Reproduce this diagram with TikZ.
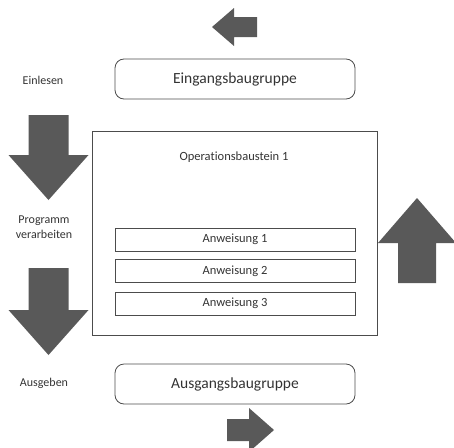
\documentclass[tikz,border=0pt]{standalone}
\usepackage{fontspec}
\setmainfont{Carlito}[Ligatures=NoCommon]
\begin{document}
\begin{tikzpicture}[x=1pt,y=-1pt,
  every node/.style={text=black!80},
  module/.style={draw=black!70, line width=0.8pt, rounded corners=9pt,
    minimum width=240pt, minimum height=40pt, inner sep=0pt,
    font=\fontsize{15.5}{18}\selectfont},
  instr/.style={draw=black!70, line width=0.8pt,
    minimum width=240pt, minimum height=23pt, inner sep=0pt,
    font=\fontsize{12.5}{14}\selectfont},
  block/.style={draw=black!70, line width=0.8pt, inner sep=0pt},
  step label/.style={font=\fontsize{12}{15}\selectfont, align=center, inner sep=0pt},
  arrowfill/.style={fill=black!65},
  pics/blockarrow/.style n args={4}{code={
    \fill[arrowfill] (0,-#2) -- (#1,-#2) -- (#1,-#4) -- ({#1+#3},0)
      -- (#1,#4) -- (#1,#2) -- (0,#2) -- cycle;}}
]
\useasboundingbox (0,0) rectangle (454,447);

% main processing block
\node[block, minimum width=285pt, minimum height=204pt] (ob) at (234.5,233) {};
\node[font=\fontsize{12.5}{14}\selectfont] (obtitle) at (234,157) {Operationsbaustein 1};

% instruction lines
\node[instr] (a1) at (235,239.5) {Anweisung 1};
\node[instr] (a2) at (235,271) {Anweisung 2};
\node[instr] (a3) at (235,303.5) {Anweisung 3};

% input / output modules
\node[module] (in) at (235,79) {Eingangsbaugruppe};
\node[module] (out) at (235,384) {Ausgangsbaugruppe};

% phase labels
\node[step label] (lread) at (43,80) {Einlesen};
\node[step label] (lproc) at (44,227) {Programm\\verarbeiten};
\node[step label] (lwrite) at (44,383) {Ausgeben};

% block arrows
\pic[rotate=180] at (257,27) {blockarrow={23}{10}{22}{19}};
\pic[rotate=-90] at (48.5,115) {blockarrow={40}{20}{45}{40}};
\pic[rotate=-90] at (48.5,268) {blockarrow={42}{20}{45}{40}};
\pic[rotate=90] at (417,283) {blockarrow={40}{19}{45}{39}};
\pic at (227,430) {blockarrow={22}{11}{25}{22}};
\end{tikzpicture}
\end{document}
